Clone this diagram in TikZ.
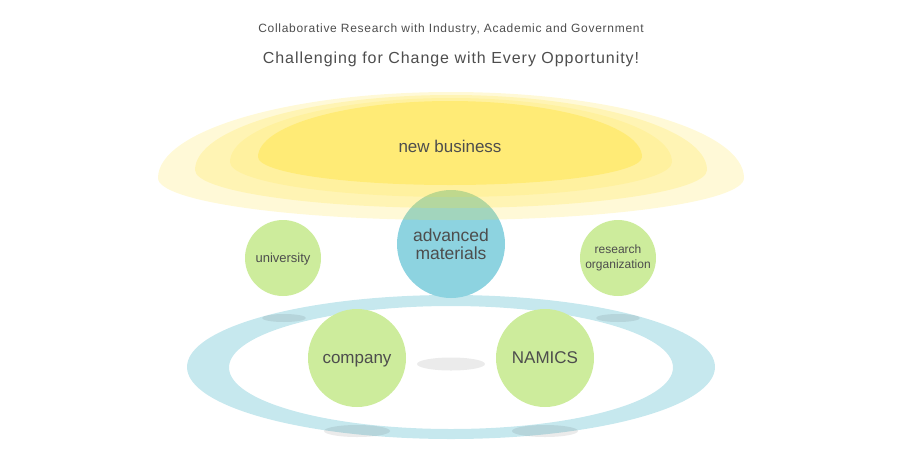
\documentclass[tikz,border=0pt]{standalone}
\usepackage{fontspec}
\setmainfont{Liberation Sans}

\definecolor{sun}{RGB}{255,223,40}
\definecolor{leaf}{RGB}{205,236,156}
\definecolor{sky}{RGB}{141,211,224}
\definecolor{pool}{RGB}{198,232,238}
\definecolor{mist}{RGB}{235,235,235}
\definecolor{ink}{RGB}{77,77,77}

\begin{document}
\begin{tikzpicture}[x=1pt, y=-1pt,
	bubble/.style={circle, fill=leaf, text=ink, inner sep=0pt, align=center},
	halo/.style={fill=sun, fill opacity=#1},
	label/.style={text=ink, inner sep=0pt}]
	\useasboundingbox (0,0) rectangle (901,461);

	\node[label, font=\fontsize{12}{14}\selectfont\addfontfeatures{LetterSpace=6}] (sub) at (451,29) {Collaborative Research with Industry, Academic and Government};
	\node[label, font=\fontsize{16}{19}\selectfont\addfontfeatures{LetterSpace=6}] (head) at (451,59) {Challenging for Change with Every Opportunity!};

	% ring
	\fill[pool, even odd rule] (451,367) ellipse [x radius=264, y radius=72]
		(451,367.5) ellipse [x radius=222, y radius=61.5];

	% shadows
	\begin{scope}[blend mode=multiply]
		\fill[mist] (284,318) ellipse [x radius=22, y radius=4];
		\fill[mist] (618,318) ellipse [x radius=22, y radius=4];
		\fill[mist] (451,364) ellipse [x radius=34, y radius=6.5];
		\fill[mist] (357,431) ellipse [x radius=33, y radius=6];
		\fill[mist] (545,431) ellipse [x radius=33, y radius=6];
	\end{scope}

	\node[bubble, fill=sky, minimum size=108pt, font=\fontsize{17.5}{18}\selectfont] (adv) at (451,244) {advanced\\materials};
	\node[bubble, minimum size=76pt, font=\fontsize{13}{15}\selectfont, text height=9pt, text depth=1pt] (uni) at (283,258) {university};
	\node[bubble, minimum size=76pt, font=\fontsize{12}{15}\selectfont] (res) at (618,258) {research\\organization};
	\node[bubble, minimum size=98pt, font=\fontsize{17}{19}\selectfont, text height=12pt, text depth=2pt] (comp) at (357,358) {company};
	\node[bubble, minimum size=98pt, font=\fontsize{17}{19}\selectfont, text height=12pt, text depth=2pt] (nam) at (545,358) {NAMICS};

	% new business glow
	\fill[halo=0.19] (158,178) arc[start angle=180, end angle=360, x radius=293, y radius=86]
		arc[start angle=0, end angle=180, x radius=293, y radius=42] -- cycle;
	\fill[halo=0.2] (195,170) arc[start angle=180, end angle=360, x radius=256, y radius=75]
		arc[start angle=0, end angle=180, x radius=256, y radius=38] -- cycle;
	\fill[halo=0.15] (230,162) arc[start angle=180, end angle=360, x radius=221, y radius=64]
		arc[start angle=0, end angle=180, x radius=221, y radius=35] -- cycle;
	\fill[halo=0.34] (258,157) arc[start angle=180, end angle=360, x radius=192, y radius=56]
		arc[start angle=0, end angle=180, x radius=192, y radius=28] -- cycle;

	\node[label, font=\fontsize{17}{19}\selectfont] (biz) at (450,146) {new business};
\end{tikzpicture}
\end{document}
